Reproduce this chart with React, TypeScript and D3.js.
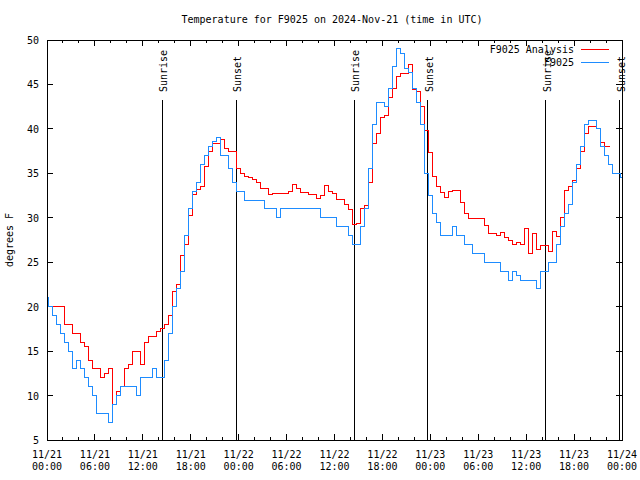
import React from "react";
import * as d3 from "d3";

// half-hourly readings starting 11/21 00:00 UTC
const startTime = Date.UTC(2024, 10, 21, 0, 0);
const stepMinutes = 30;

const analysisTemps: number[] = [
  21, 20, 20, 20, 20, 18, 18, 17, 17, 16, 15.5, 14,
  13, 13, 12, 12.5, 13, 9, 10.5, 11, 13, 13.5, 15, 15,
  13.5, 16, 16.6, 16.6, 17.2, 17.5, 18, 19, 21.7, 22.5, 25.8, 27,
  30.3, 32.6, 33.2, 33.5, 35.8, 37.5, 38.4, 38.4, 38.8, 37.8, 37.5, 37.5,
  35.6, 35, 34.7, 34.5, 34.3, 34, 33.3, 33.3, 32.6, 32.7, 32.7, 32.7,
  32.75, 33, 33.8, 33.3, 32.9, 32.9, 32.6, 32.6, 32.2, 32.5, 33.6, 33,
  32.7, 32.1, 32.1, 31.5, 30.9, 29.2, 29.4, 31, 31.4, 34, 38.4, 39.5,
  41.3, 41.5, 43.5, 44.5, 45.9, 46.25, 46.25, 47.2, 44.4, 44.2, 42.5, 39.8,
  37.3, 34.7, 33.5, 32.8, 32.3, 33, 33.1, 33.1, 31.7, 30.5, 29.9, 29.9,
  29.9, 29.9, 29.1, 28.2, 28.2, 28, 28.3, 27.8, 27.5, 27, 27.2, 27,
  28.8, 26, 28.2, 26.4, 26.9, 26.9, 26.2, 28.5, 27.9, 30, 33.1, 33.5,
  34.25, 35.5, 37.5, 39.5, 40.3, 40.3, 40.1, 38.5, 38, 38,
];

const stationTemps: number[] = [
  21, 20, 19, 18, 17, 16, 15, 13, 14, 13, 12, 11,
  10, 8, 8, 8, 7, 9, 10, 11, 11, 11, 11, 10,
  12, 12, 12, 13, 12, 12, 14, 17, 20, 22, 24, 28,
  31, 33, 34, 36, 37, 38, 38.6, 39, 37, 37, 35.5, 34,
  33, 33, 32, 32, 32, 32, 32, 31, 31, 31, 30, 31,
  31, 31, 31, 31, 31, 31, 31, 31, 31, 30, 30, 30,
  30, 29, 29, 29, 28, 27, 27, 29, 31, 35.5, 40.5, 43,
  43, 42.5, 44.5, 47, 49, 48.5, 46.8, 46.3, 44.5, 43, 40.5, 35,
  32.5, 30.5, 29.5, 28, 28, 28, 29, 28, 28, 27, 27, 26,
  26, 26, 25, 25, 25, 25, 24, 24, 23, 24, 23.5, 23,
  23, 23, 23, 22, 24, 24, 25, 25, 27, 29, 30.5, 31.5,
  34, 36, 38, 40.5, 41, 41, 40, 38, 37, 36, 35, 35,
  34.5,
];

const sunEvents = [
  { label: "Sunrise", time: "2024-11-21T14:26:00Z" },
  { label: "Sunset", time: "2024-11-21T23:40:00Z" },
  { label: "Sunrise", time: "2024-11-22T14:27:00Z" },
  { label: "Sunset", time: "2024-11-22T23:42:00Z" },
  { label: "Sunrise", time: "2024-11-23T14:29:00Z" },
  { label: "Sunset", time: "2024-11-23T23:44:00Z" },
];

const yTicks = [5, 10, 15, 20, 25, 30, 35, 40, 45, 50];

const series = [
  { name: "F9025 Analysis", color: "#ff0000", values: analysisTemps },
  { name: "F9025", color: "#1e8cff", values: stationTemps },
];

const W = 640;
const H = 480;
const margin = { top: 40, right: 18, bottom: 40, left: 47 };
const font = "'DejaVu Sans Mono', monospace";

const App = () => {
  const x = d3
    .scaleUtc()
    .domain([new Date(startTime), new Date(Date.UTC(2024, 10, 24, 0, 0))])
    .range([margin.left, W - margin.right]);
  const y = d3.scaleLinear().domain([5, 50]).range([H - margin.bottom, margin.top]);

  const [x0, x1] = x.range();
  const [yb, yt] = y.range();

  const majorTicks = x.ticks(d3.utcHour.every(6)!);
  const minorTicks = x.ticks(d3.utcHour.every(2)!).filter((t) => t.getUTCHours() % 6 !== 0);
  const fmtDay = d3.utcFormat("%m/%d");
  const fmtTime = d3.utcFormat("%H:%M");

  const line = d3
    .line<[Date, number]>()
    .x((d) => x(d[0]))
    .y((d) => y(d[1]))
    .curve(d3.curveStep);

  const toPoints = (vals: number[]) =>
    vals.map((v, i) => [new Date(startTime + i * stepMinutes * 60000), v] as [Date, number]);

  return (
    <svg
      width={W}
      height={H}
      style={{ position: "absolute", left: 0, top: 0, background: "#fff" }}
      fontFamily={font}
      fontSize={10}
    >
      <rect width={W} height={H} fill="#fff" />
      <text x={332} y={23} textAnchor="middle">
        Temperature for F9025 on 2024-Nov-21 (time in UTC)
      </text>
      <text transform={`translate(13,240) rotate(-90)`} textAnchor="middle">
        degrees F
      </text>

      {/* y ticks, mirrored on the right */}
      {yTicks.map((t) => (
        <g key={"y" + t} shapeRendering="crispEdges" stroke="#000">
          <line x1={x0} x2={x0 + 6} y1={y(t)} y2={y(t)} />
          <line x1={x1} x2={x1 - 6} y1={y(t)} y2={y(t)} />
        </g>
      ))}
      {yTicks.map((t) => (
        <text key={"yl" + t} x={39} y={y(t) + 4} textAnchor="end">
          {t}
        </text>
      ))}

      {/* x ticks, mirrored on the top */}
      {majorTicks.map((t) => (
        <g key={"xm" + t.getTime()} shapeRendering="crispEdges" stroke="#000">
          <line x1={x(t)} x2={x(t)} y1={yb} y2={yb - 6} />
          <line x1={x(t)} x2={x(t)} y1={yt} y2={yt + 6} />
        </g>
      ))}
      {minorTicks.map((t) => (
        <g key={"xn" + t.getTime()} shapeRendering="crispEdges" stroke="#000">
          <line x1={x(t)} x2={x(t)} y1={yb} y2={yb - 3} />
          <line x1={x(t)} x2={x(t)} y1={yt} y2={yt + 3} />
        </g>
      ))}
      {majorTicks.map((t) => (
        <text key={"xl" + t.getTime()} x={x(t)} textAnchor="middle">
          <tspan x={x(t)} y={458}>
            {fmtDay(t)}
          </tspan>
          <tspan x={x(t)} y={470}>
            {fmtTime(t)}
          </tspan>
        </text>
      ))}

      {/* sunrise / sunset markers */}
      {sunEvents.map((e, i) => {
        const sx = x(new Date(e.time));
        return (
          <g key={"s" + i}>
            <line
              x1={sx}
              x2={sx}
              y1={100}
              y2={yb}
              stroke="#000"
              shapeRendering="crispEdges"
            />
            <text transform={`translate(${sx + 5},92) rotate(-90)`}>{e.label}</text>
          </g>
        );
      })}

      {series.map((s) => (
        <path
          key={s.name}
          d={line(toPoints(s.values)) || ""}
          fill="none"
          stroke={s.color}
          strokeWidth={1}
          shapeRendering="crispEdges"
        />
      ))}

      <rect
        x={x0}
        y={yt}
        width={x1 - x0}
        height={yb - yt}
        fill="none"
        stroke="#000"
        shapeRendering="crispEdges"
      />

      {/* legend */}
      {series.map((s, i) => (
        <g key={"lg" + s.name}>
          <text x={574} y={53 + i * 13} textAnchor="end">
            {s.name}
          </text>
          <line
            x1={581}
            x2={609}
            y1={49 + i * 13}
            y2={49 + i * 13}
            stroke={s.color}
            shapeRendering="crispEdges"
          />
        </g>
      ))}
    </svg>
  );
};

export default App;
